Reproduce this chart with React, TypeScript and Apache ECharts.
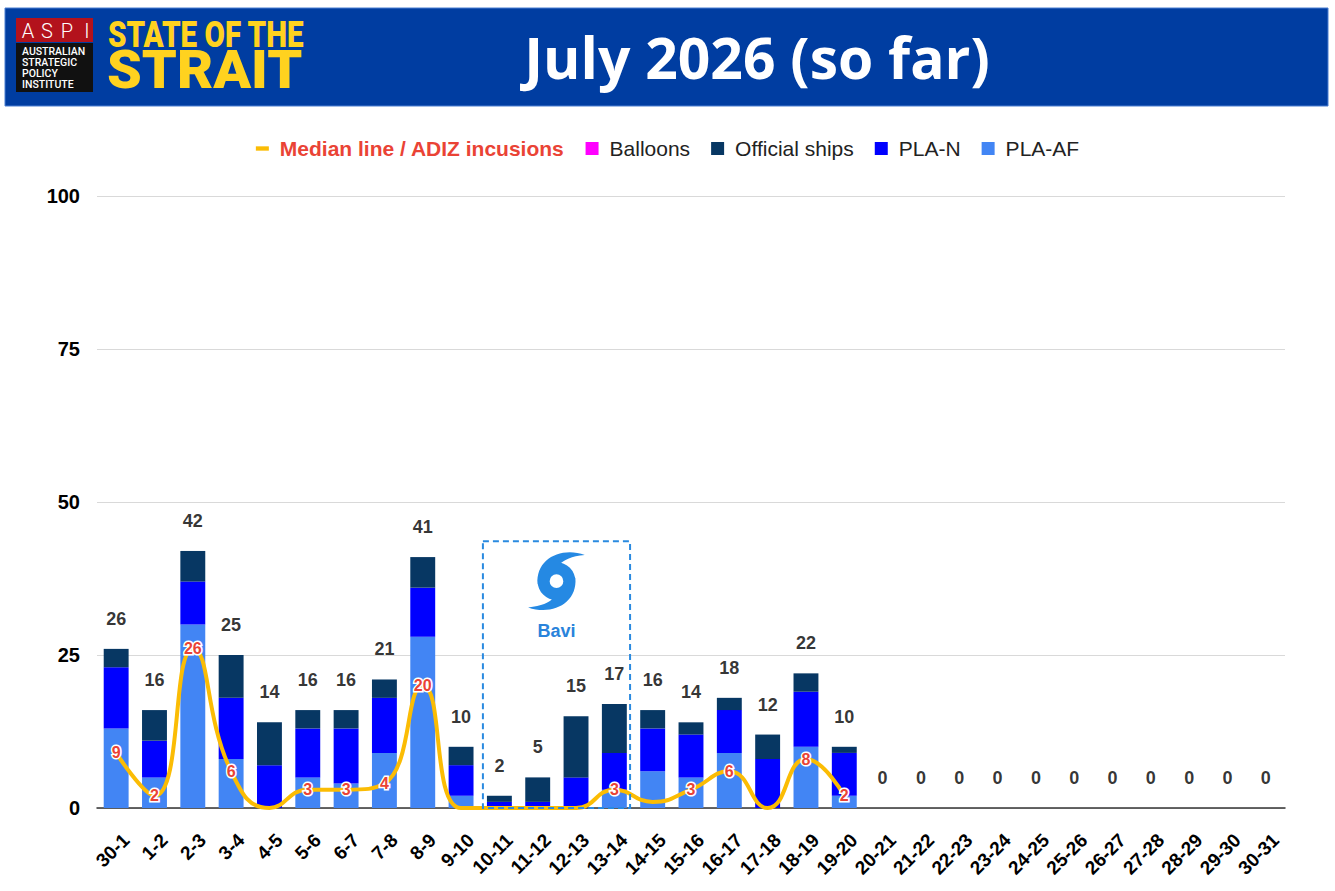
import React, { useEffect, useRef } from 'react';
import * as echarts from 'echarts';

const categories = ['30-1','1-2','2-3','3-4','4-5','5-6','6-7','7-8','8-9','9-10','10-11','11-12','12-13','13-14','14-15','15-16','16-17','17-18','18-19','19-20','20-21','21-22','22-23','23-24','24-25','25-26','26-27','27-28','28-29','29-30','30-31'];
const plaAF = [13,5,30,8,0,5,4,9,28,2,0,0,0,3,6,5,9,0,10,2,0,0,0,0,0,0,0,0,0,0,0];
const plaN = [10,6,7,10,7,8,9,9,8,5,1,1,5,6,7,7,7,8,9,7,0,0,0,0,0,0,0,0,0,0,0];
const officialShips = [3,5,5,7,7,3,3,3,5,3,1,4,10,8,3,2,2,4,3,1,0,0,0,0,0,0,0,0,0,0,0];
const balloons = [0,0,0,0,0,0,0,0,0,0,0,0,0,0,0,0,0,0,0,0,0,0,0,0,0,0,0,0,0,0,0];
const medianLine = [9,2,26,6,0,3,3,4,20,0,0,0,0,3,1,3,6,0,8,2];
const medianHiddenLabels = ['14-15'];
const yMin = 0, yMax = 100, yStep = 25;
const typhoonName = 'Bavi';
const typhoonSpan = ['10-11', '13-14'];
const typhoonBoxTop = 43.6;

const FONT = '"Liberation Sans", Arial, Roboto, sans-serif';

// cyclone glyph: disk with a hole and two sweeping arms
const armPath = (s: number) => {
  const p = (x: number, y: number) => `${s * x},${s * y}`;
  return `M${p(-18, 3)} C${p(-20, -21)} ${p(4, -33)} ${p(27, -25)} C${p(14, -24)} ${p(7, -20)} ${p(4, -17)} Z`;
};
const TYPHOON_PATH =
  'M-18,0 A18,18 0 1 1 18,0 A18,18 0 1 1 -18,0 Z M-6.5,0 A6.5,6.5 0 1 0 6.5,0 A6.5,6.5 0 1 0 -6.5,0 Z ' +
  armPath(1) + ' ' + armPath(-1);

let registered = false;
function ensureShape() {
  if (registered) return;
  registered = true;
  echarts.graphic.registerShape('typhoon', (echarts.graphic as any).extendPath(TYPHOON_PATH, {}));
}

function headerGraphics(): any[] {
  const els: any[] = [
    { type: 'rect', shape: { x: 5, y: 8, width: 1323, height: 98 }, style: { fill: '#003DA1', stroke: '#4A7FD1', lineWidth: 1 } },
    { type: 'rect', shape: { x: 16, y: 18, width: 77, height: 24 }, style: { fill: '#B3121C' } },
    { type: 'rect', shape: { x: 16, y: 43, width: 77, height: 49 }, style: { fill: '#111111' } },
  ];
  const aspi = ['A', 'S', 'P', 'I'];
  const ax = [28, 47, 67, 87];
  aspi.forEach((ch, i) => {
    els.push({ type: 'text', x: ax[i], y: 30.5, style: { text: ch, fill: '#fff', fontSize: 20, fontFamily: 'Roboto, sans-serif', fontWeight: 300, align: 'center', verticalAlign: 'middle' } });
  });
  ['AUSTRALIAN', 'STRATEGIC', 'POLICY', 'INSTITUTE'].forEach((t, i) => {
    els.push({ type: 'text', x: 22, y: 51 + i * 11, style: { text: t, fill: '#fff', fontSize: 10.5, fontWeight: 500, fontFamily: 'Roboto, sans-serif', align: 'left', verticalAlign: 'middle' } });
  });
  els.push({ type: 'text', x: 108, y: 34, scaleX: 0.8, style: { text: 'STATE OF THE', fill: '#FFD21F', fontSize: 37, fontWeight: 900, fontFamily: 'Roboto, sans-serif', align: 'left', verticalAlign: 'middle' } });
  els.push({ type: 'text', x: 107, y: 70, scaleX: 1.05, style: { text: 'STRAIT', fill: '#FFD21F', fontSize: 53, fontWeight: 900, fontFamily: 'Roboto, sans-serif', align: 'left', verticalAlign: 'middle' } });
  els.push({ type: 'text', x: 757, y: 57, style: { text: 'July 2026 (so far)', fill: '#fff', fontSize: 57, fontWeight: 'bold', fontFamily: '"Open Sans", Roboto, sans-serif', align: 'center', verticalAlign: 'middle' } });
  return els;
}

export default function App() {
  const ref = useRef<HTMLDivElement>(null);
  useEffect(() => {
    document.body.style.margin = '0';
    ensureShape();
    const chart = echarts.init(ref.current!, null, { renderer: 'svg' });
    const totals = categories.map((_, i) => plaAF[i] + plaN[i] + officialShips[i] + balloons[i]);
    const medianData = medianLine.map((v, i) =>
      medianHiddenLabels.includes(categories[i]) ? { value: v, label: { show: false } } : v
    );
    const barBase = { type: 'bar', stack: 'total', barWidth: '65%' };
    chart.setOption({
      animation: false,
      backgroundColor: '#ffffff',
      textStyle: { fontFamily: FONT },
      grid: { left: 97, right: 50, top: 196, bottom: 83 },
      legend: {
        top: 133,
        left: 'center',
        selectedMode: false,
        itemWidth: 13,
        itemHeight: 13,
        itemGap: 21,
        textStyle: { fontSize: 21, color: '#222', fontFamily: FONT, padding: [0, 0, 0, 6] },
        data: [
          { name: 'Median line / ADIZ incusions', icon: 'path://M0,0H12V4H0Z', textStyle: { color: '#EA4335', fontWeight: 'bold', fontSize: 21, padding: [0, 0, 0, 6] } },
          { name: 'Balloons', icon: 'rect' },
          { name: 'Official ships', icon: 'rect' },
          { name: 'PLA-N', icon: 'rect' },
          { name: 'PLA-AF', icon: 'rect' },
        ],
      },
      xAxis: {
        type: 'category',
        data: categories,
        axisTick: { show: false },
        axisLine: { lineStyle: { color: '#333', width: 1.5 } },
        axisLabel: { interval: 0, rotate: 45, fontSize: 19, fontWeight: 'bold', color: '#000', margin: 19, verticalAlign: 'top', lineHeight: 28 },
      },
      yAxis: {
        type: 'value',
        min: yMin,
        max: yMax,
        interval: yStep,
        axisLine: { show: false },
        axisTick: { show: false },
        axisLabel: { fontSize: 20, fontWeight: 'bold', color: '#000', margin: 17 },
        splitLine: { lineStyle: { color: '#d9d9d9', width: 1 } },
      },
      series: [
        { ...barBase, name: 'PLA-AF', data: plaAF, itemStyle: { color: '#4285F4' } },
        { ...barBase, name: 'PLA-N', data: plaN, itemStyle: { color: '#0000FF' } },
        { ...barBase, name: 'Official ships', data: officialShips, itemStyle: { color: '#073763' } },
        { ...barBase, name: 'Balloons', data: balloons, itemStyle: { color: '#FF00FF' } },
        {
          name: 'Median line / ADIZ incusions',
          type: 'line',
          data: medianData,
          smooth: 0.5,
          symbol: 'circle',
          symbolSize: 1,
          z: 5,
          lineStyle: { color: '#FBBC04', width: 4 },
          itemStyle: { color: '#FBBC04' },
          label: {
            show: true,
            position: 'inside',
            formatter: (p: any) => (p.value === 0 ? '' : String(p.value)),
            color: '#EA4335',
            fontWeight: 'bold',
            fontSize: 16,
            textBorderColor: '#ffffff',
            textBorderWidth: 3,
          },
        },
        {
          name: 'Total',
          type: 'scatter',
          data: totals,
          symbolSize: 0,
          silent: true,
          z: 6,
          label: { show: true, position: 'top', distance: 21, formatter: '{c}', color: '#000', fontWeight: 'bold', fontSize: 18 },
        },
      ],
    });

    const cL = chart.convertToPixel({ xAxisIndex: 0 }, typhoonSpan[0]) as number;
    const cR = chart.convertToPixel({ xAxisIndex: 0 }, typhoonSpan[1]) as number;
    const band = (cR - cL) / 3;
    const x0 = cL - 0.43 * band;
    const x1 = cR + 0.41 * band;
    const yTop = chart.convertToPixel({ yAxisIndex: 0 }, typhoonBoxTop) as number;
    const yBot = chart.convertToPixel({ yAxisIndex: 0 }, 0) as number;
    const cx = (x0 + x1) / 2;
    const graphics = headerGraphics().concat([
      { type: 'rect', z: 100, shape: { x: x0, y: yTop, width: x1 - x0, height: yBot - yTop }, style: { fill: 'none', stroke: '#2A8AE0', lineWidth: 2, lineDash: [6, 4] } },
      { type: 'typhoon', z: 100, x: cx, y: yTop + 40, scaleX: 1.05, scaleY: 1.05, style: { fill: '#2589E3' } },
      { type: 'text', z: 100, x: cx, y: yTop + 90, style: { text: typhoonName, fill: '#2A83DB', fontSize: 18, fontWeight: 'bold', fontFamily: FONT, align: 'center', verticalAlign: 'middle' } },
    ]);
    chart.setOption({ graphic: graphics });
    return () => chart.dispose();
  }, []);
  return <div ref={ref} style={{ width: 1335, height: 891 }} />;
}
